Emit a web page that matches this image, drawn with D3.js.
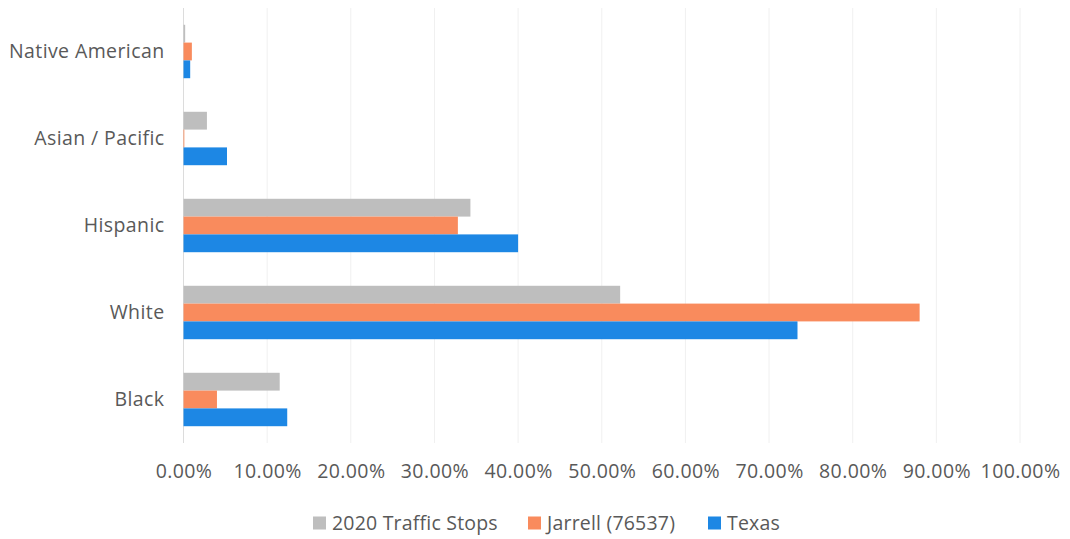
<!DOCTYPE html>
<html>
<head>
<meta charset="utf-8">
<script src="https://cdn.jsdelivr.net/npm/d3@7"></script>
<style>
  body { margin: 0; background: #fff; }
  svg { display: block; font-family: "Open Sans", sans-serif; }
</style>
</head>
<body>
<div id="chart"></div>
<script>
// Clustered horizontal bars: share of each group (percent)

const categories = ["Native American", "Asian / Pacific", "Hispanic", "White", "Black"];
const seriesNames = ["2020 Traffic Stops", "Jarrell (76537)", "Texas"];
const trafficStops = [0.2, 2.8, 34.3, 52.2, 11.5];
const jarrell = [1.0, 0.1, 32.8, 88.0, 4.0];
const texas = [0.8, 5.2, 40.0, 73.4, 12.4];
const xTicks = [0, 10, 20, 30, 40, 50, 60, 70, 80, 90, 100];

const colors = ["#bebebe", "#f98b5d", "#1d87e4"];
const seriesValues = [trafficStops, jarrell, texas];

const width = 1070, height = 539;
const margin = { top: 8, right: 50, bottom: 96, left: 183.5 };
const innerWidth = width - margin.left - margin.right;
const innerHeight = height - margin.top - margin.bottom;

const svg = d3.select("#chart")
    .append("svg")
    .attr("width", width)
    .attr("height", height);

const g = svg.append("g")
    .attr("transform", `translate(${margin.left},${margin.top})`);

// Scales
const x = d3.scaleLinear()
    .domain([0, 100])
    .range([0, 836.5]);

const y = d3.scaleBand()
    .domain(categories)
    .range([0, innerHeight])
    .paddingInner(0.386)
    .paddingOuter(0.193);

const ySub = d3.scaleBand()
    .domain(seriesNames)
    .range([0, y.bandwidth()]);

// Gridlines
g.append("g")
    .selectAll("line")
    .data(xTicks)
    .enter()
    .append("line")
    .attr("x1", d => x(d))
    .attr("x2", d => x(d))
    .attr("y1", 0)
    .attr("y2", innerHeight)
    .attr("stroke", d => d === 0 ? "#dcdcdc" : "#f0f0f0")
    .attr("stroke-width", 1);

// X axis labels
const xAxis = g.append("g")
    .attr("transform", `translate(0,${innerHeight})`)
    .call(d3.axisBottom(x).tickValues(xTicks).tickSize(0).tickPadding(21)
        .tickFormat(d => d.toFixed(2) + "%"));
xAxis.select(".domain").remove();
xAxis.selectAll("text")
    .attr("fill", "#595959")
    .attr("font-size", "19.5px")
    .attr("letter-spacing", "0.4px")
    .attr("font-family", "Open Sans, sans-serif");

// Y axis labels
const yAxis = g.append("g")
    .call(d3.axisLeft(y).tickSize(0).tickPadding(19));
yAxis.select(".domain").remove();
yAxis.selectAll("text")
    .attr("fill", "#595959")
    .attr("font-size", "19.5px")
    .attr("letter-spacing", "0.4px")
    .attr("font-family", "Open Sans, sans-serif");

// Bars
const rows = categories.map((c, i) => ({
    cat: c,
    vals: seriesNames.map((s, j) => ({ series: s, value: seriesValues[j][i], color: colors[j] }))
}));

const groups = g.selectAll(".group")
    .data(rows)
    .enter()
    .append("g")
    .attr("class", "group")
    .attr("transform", d => `translate(0,${y(d.cat)})`);

groups.selectAll("rect")
    .data(d => d.vals)
    .enter()
    .append("rect")
    .attr("x", 0)
    .attr("y", d => ySub(d.series))
    .attr("width", d => x(d.value))
    .attr("height", ySub.bandwidth())
    .attr("fill", d => d.color);

// Legend
const legendX = [313, 528, 708];
const legend = svg.append("g")
    .attr("transform", "translate(0,523)");

const items = legend.selectAll(".item")
    .data(seriesNames)
    .enter()
    .append("g")
    .attr("class", "item")
    .attr("transform", (d, i) => `translate(${legendX[i]},0)`);

items.append("rect")
    .attr("x", 0)
    .attr("y", -6.5)
    .attr("width", 13)
    .attr("height", 13)
    .attr("fill", (d, i) => colors[i]);

items.append("text")
    .attr("x", 19)
    .attr("y", 0)
    .attr("dy", "0.35em")
    .attr("fill", "#595959")
    .attr("font-size", "19.5px")
    .attr("letter-spacing", "0.2px")
    .text(d => d);
</script>
</body>
</html>
